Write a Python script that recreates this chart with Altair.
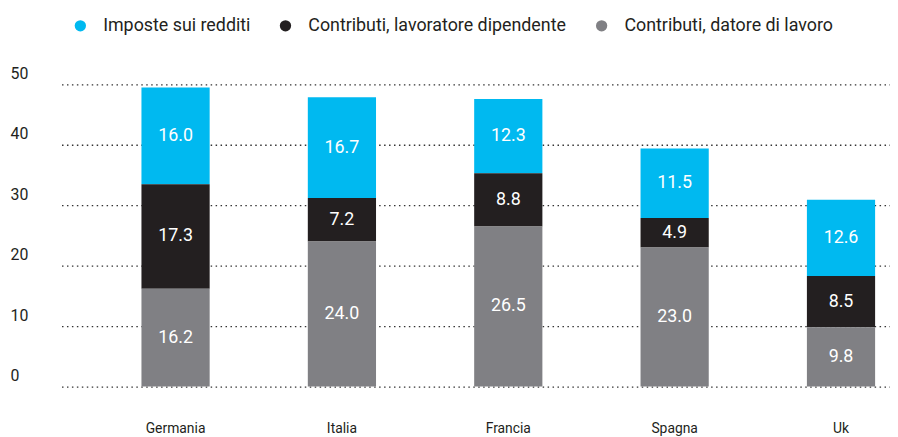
import altair as alt
import pandas as pd

countries = ['Germania', 'Italia', 'Francia', 'Spagna', 'Uk']
series = ['Imposte sui redditi', 'Contributi, lavoratore dipendente', 'Contributi, datore di lavoro']
imposte = [16.0, 16.7, 12.3, 11.5, 12.6]
lavoratore = [17.3, 7.2, 8.8, 4.9, 8.5]
datore = [16.2, 24.0, 26.5, 23.0, 9.8]
y_ticks = [0, 10, 20, 30, 40, 50]
colors = ['#00b9f0', '#231f20', '#808084']

rows = []
for i, c in enumerate(countries):
    rows.append({'country': c, 'serie': series[0], 'value': imposte[i], 'ord': 2})
    rows.append({'country': c, 'serie': series[1], 'value': lavoratore[i], 'ord': 1})
    rows.append({'country': c, 'serie': series[2], 'value': datore[i], 'ord': 0})
df = pd.DataFrame(rows)

FONT = 'Roboto'

base = alt.Chart(df).transform_stack(
    stack='value', groupby=['country'], as_=['y0', 'y1'],
    sort=[alt.SortField('ord', order='ascending')]
).transform_calculate(mid='(datum.y0 + datum.y1) / 2')

xscale = alt.Scale(paddingInner=0.59, paddingOuter=0.285, align=0.843)
xaxis = alt.Axis(domain=False, ticks=False, labelAngle=0, labelPadding=35,
                 labelFontSize=14, labelColor='#231f20', labelFont=FONT)
yscale = alt.Scale(domain=[0, 52], nice=False)
yaxis = alt.Axis(values=y_ticks, domain=False, ticks=False, grid=True,
                 gridDash=[1.5, 3.5], gridColor='#333', gridWidth=1.3,
                 labelAlign='left', labelPadding=52, labelBaseline='bottom',
                 labelOffset=-3, labelFontSize=16, labelColor='#231f20',
                 labelFont=FONT)

bars = base.mark_bar().encode(
    x=alt.X('country:N', sort=countries, title=None, scale=xscale, axis=xaxis),
    y=alt.Y('y0:Q', title=None, scale=yscale, axis=yaxis),
    y2='y1:Q',
    color=alt.Color('serie:N', scale=alt.Scale(domain=series, range=colors),
                    legend=alt.Legend(title=None, orient='none', direction='horizontal',
                                      legendX=10, legendY=-56, symbolType='circle',
                                      symbolSize=130, symbolStrokeWidth=0,
                                      labelFontSize=18, labelFont=FONT, labelLimit=0,
                                      labelColor='#231f20', columnPadding=26,
                                      labelOffset=14)),
)

labels = base.mark_text(color='white', fontSize=18, font=FONT, baseline='middle').encode(
    x=alt.X('country:N', sort=countries, title=None, scale=xscale, axis=xaxis),
    y=alt.Y('mid:Q', title=None, scale=yscale, axis=yaxis),
    text=alt.Text('value:Q', format='.1f'),
)

chart = alt.layer(bars, labels).properties(
    width=836, height=317,
    autosize=alt.AutoSizeParams(type='none'),
    padding={'left': 54, 'top': 63, 'right': 0, 'bottom': 56},
).configure_view(stroke=None)

chart.save('out.html', embed_options={'renderer': 'svg', 'actions': False})
